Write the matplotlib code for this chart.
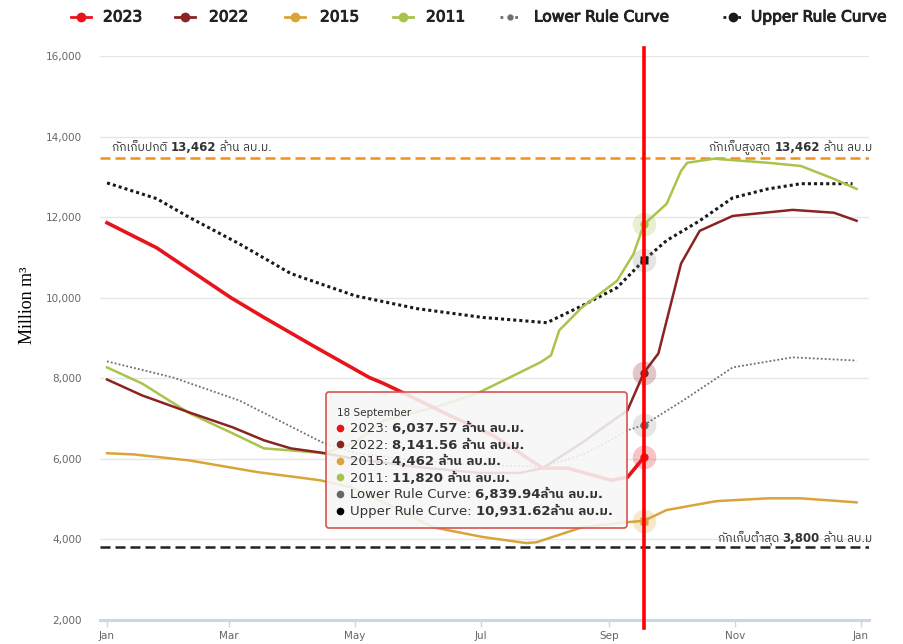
"""Reservoir storage vs rule curves, 18 September snapshot (2023 / 2022 / 2015 / 2011)."""
import numpy as np
import matplotlib
matplotlib.use("Agg")
import matplotlib.pyplot as plt
import matplotlib.patheffects as pe
from matplotlib import font_manager, ft2font
from matplotlib.lines import Line2D
from matplotlib.patches import FancyBboxPatch

W, H = 904, 644

# --- data: day of year -> million m3 ---
days_2023 = [0, 24, 60, 76, 100, 127, 134, 143, 165, 187, 211, 223, 244, 252, 260]
vol_2023 = [11860, 11240, 10000, 9510, 8800, 8020, 7870, 7650, 7100, 6580, 5770, 5770, 5470, 5540, 6037.57]

days_2022 = [0, 17, 40, 61, 76, 89, 103, 120, 150, 180, 200, 211, 230, 245, 252, 260, 267, 271, 278, 287, 303, 332, 352, 363]
vol_2022 = [7970, 7575, 7150, 6780, 6460, 6260, 6160, 6000, 5800, 5650, 5650, 5770, 6400, 6950, 7200, 8141.56,
            8615, 9430, 10850, 11660, 12030, 12180, 12110, 11910]

days_2015 = [0, 13, 40, 73, 103, 118, 135, 158, 182, 203, 208, 230, 250, 260, 271, 295, 320, 336, 363]
vol_2015 = [6140, 6110, 5960, 5670, 5470, 5300, 4900, 4300, 4060, 3910, 3930, 4300, 4420, 4462, 4730, 4950, 5020, 5020, 4920]

days_2011 = [0, 17, 40, 61, 76, 89, 105, 120, 134, 160, 179, 195, 210, 215, 219, 230, 247, 255, 260, 271, 278, 281,
             294, 320, 336, 352, 363]
vol_2011 = [8270, 7870, 7130, 6630, 6260, 6210, 6140, 6400, 6950, 7300, 7620, 8020, 8400, 8570, 9190, 9760, 10420,
            11090, 11820, 12330, 13150, 13350, 13450, 13350, 13270, 12950, 12700]

days_lower = [0, 32, 64, 105, 120, 150, 180, 211, 230, 245, 252, 260, 279, 303, 332, 363]
vol_lower = [8420, 8020, 7450, 6390, 6150, 5950, 5850, 5800, 6100, 6500, 6710, 6839.94, 7450, 8270, 8520, 8440]

days_upper = [0, 24, 40, 64, 89, 120, 150, 182, 213, 230, 247, 260, 271, 287, 303, 320, 336, 361]
vol_upper = [12850, 12460, 11990, 11340, 10600, 10050, 9730, 9510, 9380, 9800, 10250, 10931.62, 11420, 11910,
             12480, 12700, 12830, 12830]

normal_cap = 13462
min_cap = 3800
sel_day = 260  # 18 September

month_days = [0, 59, 120, 181, 243, 304, 365]
month_labels = ["Jan", "Mar", "May", "Jul", "Sep", "Nov", "Jan"]

C23, C22, C15, C11 = "#e8141b", "#8b2323", "#d9a53a", "#a8c44c"
CLO, CUP = "#6e6e6e", "#1a1a1a"

# Thai glyphs: pick any installed font that has them, DejaVu first
thai = None
for f in sorted(font_manager.fontManager.ttflist, key=lambda f: ("Thai" not in f.name, "Sans" not in f.name)):
    try:
        if 0x0E01 in ft2font.FT2Font(f.fname).get_charmap():
            thai = f.name
            break
    except Exception:
        continue
FAM = ["DejaVu Sans"] + ([thai] if thai else [])
plt.rcParams["font.family"] = FAM

fig = plt.figure(figsize=(W / 100, H / 100), dpi=100)
ax = fig.add_axes([100 / W, 1 - 620 / H, 769 / W, 564 / H])

ax.plot(days_upper, vol_upper, color=CUP, lw=2.2, ls=(0, (1, 1)), zorder=3)
ax.plot(days_lower, vol_lower, color=CLO, lw=1.3, ls=(0, (1, 1.2)), zorder=3)
ax.plot(days_2011, vol_2011, color=C11, lw=1.8, zorder=3)
ax.plot(days_2015, vol_2015, color=C15, lw=1.8, zorder=3)
ax.plot(days_2022, vol_2022, color=C22, lw=1.8, zorder=3)
ax.plot(days_2023, vol_2023, color=C23, lw=2.6, zorder=4)

ax.axhline(normal_cap, color="#f0901e", lw=1.8, ls=(0, (4, 2)), zorder=2)
ax.axhline(min_cap, color="#222222", lw=1.8, ls=(0, (4, 2)), zorder=2)

# hover markers on 18 September
for d, v, col, mk in [(days_upper, vol_upper, CUP, "s"), (days_lower, vol_lower, CLO, "o"),
                      (days_2011, vol_2011, C11, "o"), (days_2015, vol_2015, C15, "s"),
                      (days_2022, vol_2022, C22, "o"), (days_2023, vol_2023, C23, "o")]:
    y = np.interp(sel_day, d, v)
    halo = "#999999" if col in (CUP, CLO) else col
    ax.plot(sel_day, y, "o", ms=17, color=halo, alpha=0.25, mec="none", zorder=5)
    ax.plot(sel_day, y, mk, ms=6, color=col, mec="none", zorder=6)

ax.axvline(sel_day, ymin=-0.015, ymax=1.015, color="#ff0000", lw=2.6, clip_on=False, zorder=7)

ax.set_xlim(-3.4, 369)
ax.set_ylim(2000, 16000)
ax.set_yticks(range(2000, 16001, 2000))
ax.set_yticklabels([f"{v:,}" for v in range(2000, 16001, 2000)])
ax.set_xticks(month_days)
ax.set_xticklabels(month_labels)
ax.grid(axis="y", color="#e6e6e6", lw=1)
ax.set_axisbelow(True)
for s in ["top", "right", "left"]:
    ax.spines[s].set_visible(False)
ax.spines["bottom"].set_color("#ccd6eb")
ax.spines["bottom"].set_linewidth(2.2)
ax.tick_params(axis="y", length=0, pad=13, labelsize=7.5, labelcolor="#666666")
ax.tick_params(axis="x", length=5, width=1, color="#ccd6eb", pad=3, labelsize=7.5, labelcolor="#666666")

fig.text(28 / W, 1 - 305 / H, "Million m³", rotation=90, ha="center", va="center",
         family="Liberation Serif", fontsize=13, color="black")

R = fig.canvas.get_renderer()


def run(x, y, parts, size, color="#333333", ha="left", z=4):
    """Draw text pieces on one baseline; x, y in image pixels (y from top)."""
    if ha == "right":
        for s, w in parts:
            t = fig.text(0, 0, s, fontsize=size, fontweight=w)
            x -= t.get_window_extent(R).width
            t.remove()
    for s, w in parts:
        t = fig.text(x / W, 1 - y / H, s, fontsize=size, fontweight=w, color=color, va="baseline", zorder=z)
        x += t.get_window_extent(R).width


run(112, 151, [("กักเก็บปกติ ", "normal"), ("13,462", "bold"), (" ล้าน ลบ.ม.", "normal")], 8.5)
run(872, 151, [("กักเก็บสูงสุด ", "normal"), ("13,462", "bold"), (" ล้าน ลบ.ม", "normal")], 8.5, ha="right")
run(872, 542, [("กักเก็บต่ำสุด ", "normal"), ("3,800", "bold"), (" ล้าน ลบ.ม", "normal")], 8.5, ha="right")

# tooltip
box = FancyBboxPatch((326 / 100, (H - 528) / 100), 301 / 100, 136 / 100,
                     boxstyle="round,pad=0,rounding_size=0.03", transform=fig.dpi_scale_trans,
                     facecolor="#f7f7f7", alpha=0.88, edgecolor="none", zorder=2)
edge = FancyBboxPatch((326 / 100, (H - 528) / 100), 301 / 100, 136 / 100,
                      boxstyle="round,pad=0,rounding_size=0.03", transform=fig.dpi_scale_trans,
                      facecolor="none", edgecolor="#d9534f", lw=1.2, zorder=2)
fig.add_artist(box)
fig.add_artist(edge)
run(337, 416, [("18 September", "normal")], 7.5)
tip_rows = [(C23, "2023: ", "6,037.57 ล้าน ลบ.ม."), (C22, "2022: ", "8,141.56 ล้าน ลบ.ม."),
            (C15, "2015: ", "4,462 ล้าน ลบ.ม."), (C11, "2011: ", "11,820 ล้าน ลบ.ม."),
            ("#666666", "Lower Rule Curve: ", "6,839.94ล้าน ลบ.ม."),
            ("#000000", "Upper Rule Curve: ", "10,931.62ล้าน ลบ.ม.")]
for i, (col, name, val) in enumerate(tip_rows):
    yb = 432 + i * 16.6
    fig.add_artist(Line2D([340 / W], [1 - (yb - 4.5) / H], marker="o", ms=5.5, color=col, mec="none",
                          transform=fig.transFigure, zorder=4))
    run(350, yb, [(name, "normal"), (val, "bold")], 9.5)

# legend across the top
leg = [("2023", C23, "-", "o", 6, 81, 103), ("2022", C22, "-", "o", 6, 185, 209),
       ("2015", C15, "-", "o", 6, 295, 320), ("2011", C11, "-", "o", 6, 403, 426),
       ("Lower Rule Curve", CLO, ":", "o", 3.5, 510, 534), ("Upper Rule Curve", CUP, ":", "o", 6, 733, 751)]
for lab, col, ls, mk, ms, mx, tx in leg:
    fig.add_artist(Line2D([(mx - 10) / W, (mx + 10) / W], [1 - 17 / H] * 2, color=col, ls=ls, lw=2,
                          transform=fig.transFigure))
    fig.add_artist(Line2D([mx / W], [1 - 17 / H], marker=mk, ms=ms, color=col, mec=col,
                          transform=fig.transFigure))
    fig.text(tx / W, 1 - 17 / H, lab, va="center", fontsize=11.1, color="#222222",
             path_effects=[pe.withStroke(linewidth=0.7, foreground="#222222")])

fig.savefig("out.png", dpi=100)
